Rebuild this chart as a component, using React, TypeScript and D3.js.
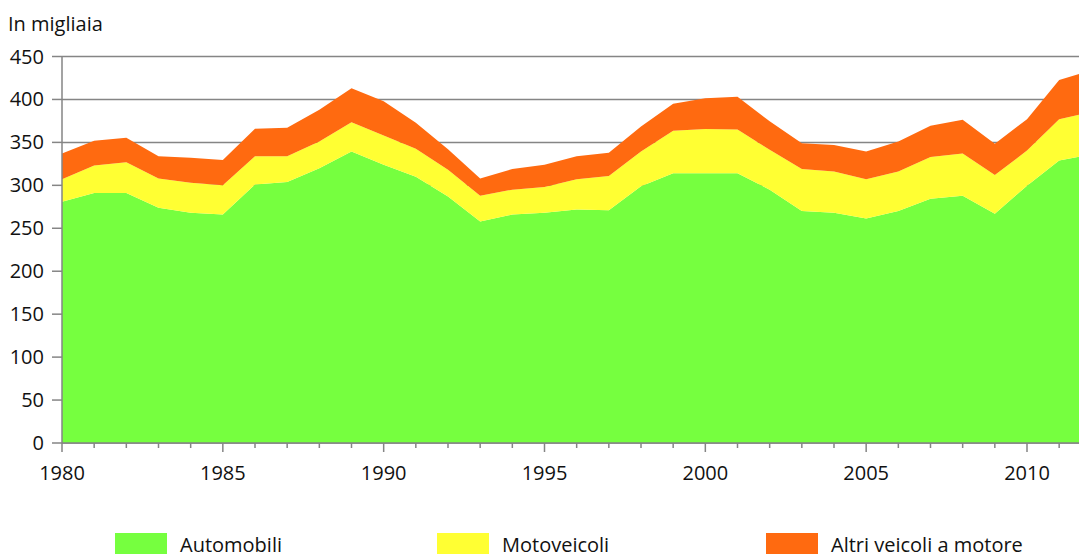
import React from "react";
import * as d3 from "d3";

const years = d3.range(1980, 2013);
const automobili = [281, 291, 291, 274, 268, 266, 301, 304, 320, 339.5, 324, 310, 287, 258, 266, 268, 272, 271, 299, 314, 314, 314, 295, 270, 268, 261.5, 270, 284.5, 288, 267, 299.5, 329, 336];
const motoveicoli = [26, 32, 36, 34, 35, 34, 33, 30, 31, 34, 34, 32.5, 31, 30, 29, 30, 35, 40, 40.5, 49.5, 51.5, 51, 46.5, 49, 48, 45.5, 46, 48.5, 49, 45, 41, 48, 49.5];
const altri = [30, 29, 28.5, 26, 29, 29.5, 32, 33, 37, 39.5, 40, 30.5, 24, 20, 24, 26, 27, 27, 29, 31.5, 36, 38, 33, 30, 31, 32.5, 35, 36.5, 39.5, 36.5, 36.5, 45.5, 48.5];
const seriesNames = ["Automobili", "Motoveicoli", "Altri veicoli a motore"];
const colors = ["#76ff3f", "#ffff33", "#ff6a10"];
const yTicks = [0, 50, 100, 150, 200, 250, 300, 350, 400, 450];
const xTicks = [1980, 1985, 1990, 1995, 2000, 2005, 2010];

const W = 1079;
const H = 554;
const font = "'Open Sans', sans-serif";

export default function App() {
  const rows = years.map((y, i) => ({
    year: y,
    a: automobili[i],
    m: motoveicoli[i],
    o: altri[i],
  }));
  const stack = d3.stack<any>().keys(["a", "m", "o"]);
  const layers = stack(rows);

  const x = d3.scaleLinear().domain([1980, 2010]).range([62, 1027]);
  const y = d3.scaleLinear().domain([0, 450]).range([443, 56.5]);

  const area = d3
    .area<any>()
    .x((d) => x(d.data.year))
    .y0((d) => y(d[0]))
    .y1((d) => y(d[1]));

  const axisColor = "#858585";
  const textColor = "#111";

  return (
    <svg
      width={W}
      height={H}
      style={{ position: "absolute", left: 0, top: 0, fontFamily: font }}
    >
      <text x={8} y={31} fontSize={20} fill={textColor}>
        In migliaia
      </text>
      {yTicks.map((t) => (
        <g key={t}>
          <line x1={62} x2={W} y1={y(t)} y2={y(t)} stroke={axisColor} strokeWidth={1.5} />
          <line x1={52} x2={62} y1={y(t)} y2={y(t)} stroke={axisColor} strokeWidth={1.5} />
          <text x={44} y={y(t)} dy="0.35em" textAnchor="end" fontSize={20} fill={textColor}>
            {t}
          </text>
        </g>
      ))}
      {layers.map((l, i) => (
        <path key={i} d={area(l) || ""} fill={colors[i]} />
      ))}
      <line x1={62} x2={62} y1={y(450)} y2={y(0)} stroke={axisColor} strokeWidth={1.5} />
      <line x1={62} x2={W} y1={y(0)} y2={y(0)} stroke={axisColor} strokeWidth={1.5} />
      {years.map((yr) => (
        <line
          key={yr}
          x1={x(yr)}
          x2={x(yr)}
          y1={y(0)}
          y2={y(0) + (yr % 5 === 0 ? 9 : 5)}
          stroke={axisColor}
          strokeWidth={1.5}
        />
      ))}
      {xTicks.map((t) => (
        <text key={t} x={x(t)} y={480} textAnchor="middle" fontSize={20} fill={textColor}>
          {t}
        </text>
      ))}
      {seriesNames.map((n, i) => {
        const lx = [115, 437, 766][i];
        return (
          <g key={n}>
            <rect x={lx} y={533} width={52} height={21} fill={colors[i]} />
            <text x={lx + 65} y={551.5} fontSize={20} fill={textColor}>
              {n}
            </text>
          </g>
        );
      })}
    </svg>
  );
}
